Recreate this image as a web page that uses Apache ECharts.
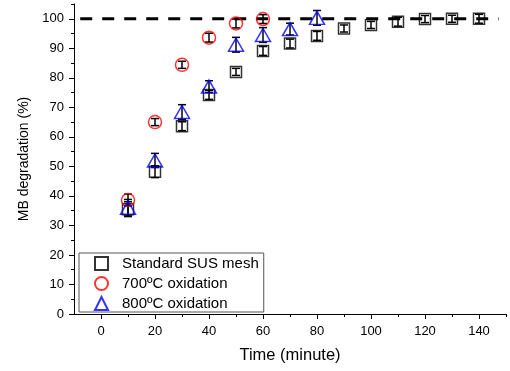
<!DOCTYPE html>
<html>
<head>
<meta charset="utf-8">
<script src="https://cdn.jsdelivr.net/npm/echarts@6/dist/echarts.min.js"></script>
<style>
  html, body { margin: 0; padding: 0; background: #fff; }
  #chart { width: 510px; height: 371px; }
</style>
</head>
<body>
<div id="chart"></div>
<script>
// Tick positions
const timeTicks = [0, 20, 40, 60, 80, 100, 120, 140];
const timeMinorTicks = [10, 30, 50, 70, 90, 110, 130, 150];
const degTicks = [0, 10, 20, 30, 40, 50, 60, 70, 80, 90, 100];
const degMinorTicks = [5, 15, 25, 35, 45, 55, 65, 75, 85, 95, 105];

// Standard SUS mesh
const stdTime = [10, 20, 30, 40, 50, 60, 70, 80, 90, 100, 110, 120, 130, 140];
const stdDeg  = [35.5, 48.2, 63.6, 74.2, 82.0, 89.1, 91.6, 94.2, 96.7, 97.9, 99.0, 99.9, 100.0, 100.0];
const stdErr  = [2.5, 2.0, 1.5, 1.5, 1.2, 1.5, 1.5, 1.5, 1.2, 1.2, 1.5, 1.2, 1.2, 1.5];

// 700ºC oxidation
const ox700Time = [10, 20, 30, 40, 50, 60];
const ox700Deg  = [38.6, 65.0, 84.4, 93.6, 98.4, 99.9];
const ox700Err  = [2.0, 1.2, 1.2, 1.5, 1.5, 1.5];

// 800ºC oxidation
const ox800Time = [10, 20, 30, 40, 50, 60, 70, 80];
const ox800Deg  = [36.0, 52.0, 68.4, 77.0, 91.2, 94.5, 96.5, 100.3];
const ox800Err  = [2.8, 2.4, 2.5, 2.0, 2.5, 2.5, 2.0, 2.5];

// Complete-degradation reference line
const refLineTime = [-7.7, 147.3];
const refLineDeg = 100;

const FONT = 'Liberation Sans, Arial, sans-serif';

function pairs(xs, ys) { return xs.map((x, i) => [x, ys[i]]); }
function errPairs(xs, ys, es) { return xs.map((x, i) => [x, ys[i], es[i]]); }

function errorBars(name, xs, ys, es) {
  return {
    type: 'custom',
    name: name + ' error',
    xAxisIndex: 0, yAxisIndex: 0,
    silent: true,
    z: 1,
    data: errPairs(xs, ys, es),
    renderItem: function (params, api) {
      const x = api.value(0), y = api.value(1), e = api.value(2);
      const top = api.coord([x, y + e]);
      const bot = api.coord([x, y - e]);
      const hw = 4;
      const style = { stroke: '#000', lineWidth: 1.5, fill: null };
      return {
        type: 'group',
        children: [
          { type: 'line', shape: { x1: top[0], y1: top[1], x2: bot[0], y2: bot[1] }, style: style },
          { type: 'line', shape: { x1: top[0] - hw, y1: top[1], x2: top[0] + hw, y2: top[1] }, style: style },
          { type: 'line', shape: { x1: bot[0] - hw, y1: bot[1], x2: bot[0] + hw, y2: bot[1] }, style: style }
        ]
      };
    }
  };
}

const chart = echarts.init(document.getElementById('chart'), null, { renderer: 'canvas' });

const axisLineStyle = { color: '#000', width: 1 };

chart.setOption({
  animation: false,
  backgroundColor: '#fff',
  textStyle: { fontFamily: FONT },
  grid: { left: 74, right: 4, top: 4, bottom: 57, containLabel: false },
  legend: {
    orient: 'vertical',
    left: 79, top: 253,
    padding: [3, 5, 1, 15],
    itemGap: 5,
    itemWidth: 13, itemHeight: 13,
    borderColor: '#555', borderWidth: 1,
    textStyle: { fontFamily: FONT, fontSize: 15, color: '#000', padding: [0, 0, 0, 9] },
    data: ['Standard SUS mesh', '700ºC oxidation', '800ºC oxidation']
  },
  xAxis: [
    {
      type: 'value', min: -10, max: 150,
      name: 'Time (minute)', nameLocation: 'middle', nameGap: 33,
      nameTextStyle: { fontFamily: FONT, fontSize: 16.5, color: '#000' },
      axisLine: { onZero: false, lineStyle: axisLineStyle },
      axisTick: { customValues: timeTicks, length: 5, lineStyle: axisLineStyle },
      axisLabel: { customValues: timeTicks, margin: 11, fontFamily: FONT, fontSize: 13, color: '#000' },
      splitLine: { show: false }
    },
    {
      type: 'value', min: -10, max: 150, position: 'bottom',
      axisLine: { show: false, onZero: false },
      axisTick: { customValues: timeMinorTicks, length: 3, lineStyle: axisLineStyle },
      axisLabel: { show: false },
      splitLine: { show: false }
    }
  ],
  yAxis: [
    {
      type: 'value', min: 0, max: 105,
      name: 'MB degradation (%)', nameLocation: 'middle', nameGap: 42,
      nameTextStyle: { fontFamily: FONT, fontSize: 14, color: '#000' },
      axisLine: { show: true, onZero: false, lineStyle: axisLineStyle },
      axisTick: { show: true, customValues: degTicks, length: 5, lineStyle: axisLineStyle },
      axisLabel: { customValues: degTicks, margin: 10, fontFamily: FONT, fontSize: 13, color: '#000' },
      splitLine: { show: false }
    },
    {
      type: 'value', min: 0, max: 105, position: 'left',
      axisLine: { show: false, onZero: false },
      axisTick: { show: true, customValues: degMinorTicks, length: 3, lineStyle: axisLineStyle },
      axisLabel: { show: false },
      splitLine: { show: false }
    }
  ],
  series: [
    {
      type: 'line',
      name: 'reference',
      data: refLineTime.map(t => [t, refLineDeg]),
      symbol: 'none',
      silent: true,
      z: 0,
      lineStyle: { color: '#000', width: 3, type: [12, 10] }
    },
    errorBars('Standard SUS mesh', stdTime, stdDeg, stdErr),
    errorBars('700ºC oxidation', ox700Time, ox700Deg, ox700Err),
    errorBars('800ºC oxidation', ox800Time, ox800Deg, ox800Err),
    {
      type: 'scatter', name: 'Standard SUS mesh',
      data: pairs(stdTime, stdDeg),
      symbol: 'rect', symbolSize: 11, z: 3,
      itemStyle: { color: 'rgba(0,0,0,0)', borderColor: '#000', borderWidth: 1.5 }
    },
    {
      type: 'scatter', name: '700ºC oxidation',
      data: pairs(ox700Time, ox700Deg),
      symbol: 'circle', symbolSize: 13, z: 3,
      itemStyle: { color: 'rgba(0,0,0,0)', borderColor: '#ff0000', borderWidth: 1.5 }
    },
    {
      type: 'scatter', name: '800ºC oxidation',
      data: pairs(ox800Time, ox800Deg),
      symbol: 'triangle', symbolSize: [15, 13], z: 3,
      itemStyle: { color: 'rgba(0,0,0,0)', borderColor: '#0000ff', borderWidth: 1.5 }
    }
  ]
});
</script>
</body>
</html>
